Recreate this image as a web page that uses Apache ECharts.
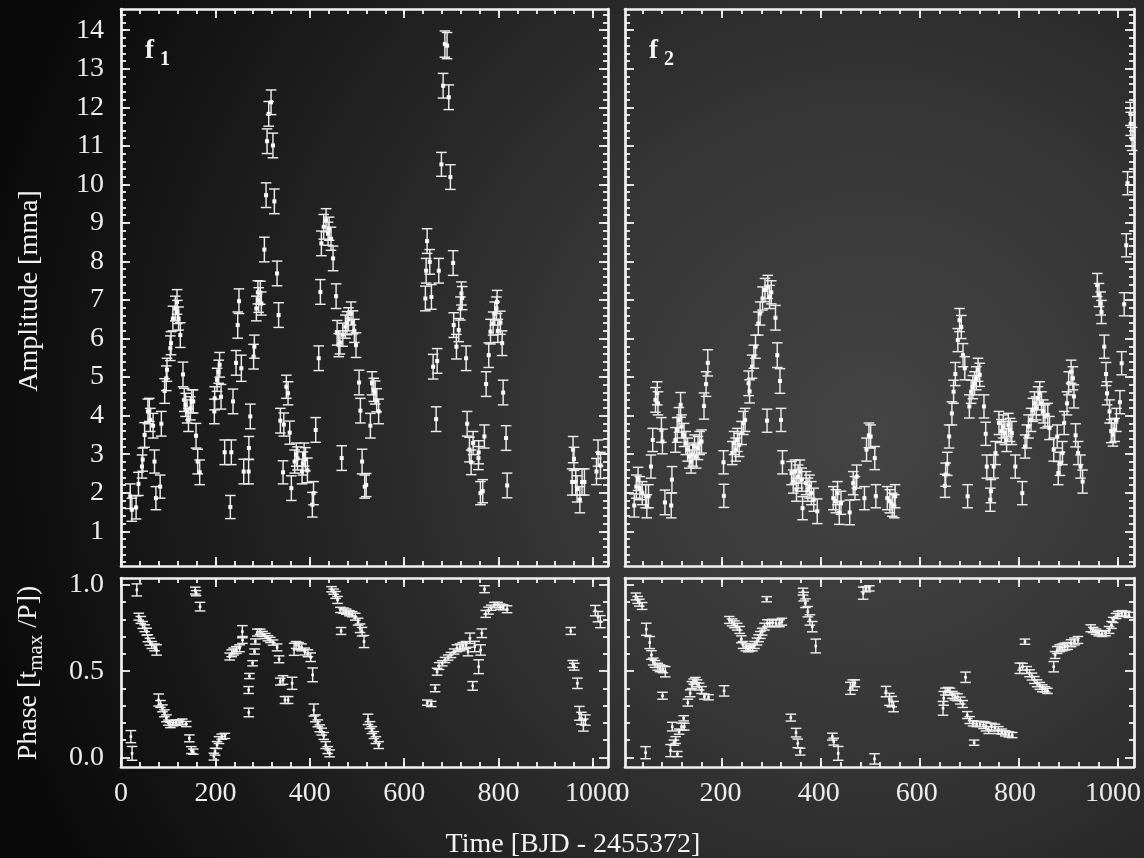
<!DOCTYPE html>
<html><head><meta charset="utf-8">
<script src="https://cdn.jsdelivr.net/npm/echarts@6/dist/echarts.min.js"></script>
<style>html,body{margin:0;padding:0;background:#111;}#c{width:1144px;height:858px;}</style>
</head><body><div id="c"></div>
<script>
// ---------- DATA: [time, value, error] ----------
const f1Amp = [
[19.7,1.91,0.32],[23,1.56,0.3],[32,1.62,0.3],[37,2.23,0.3],[44.5,2.68,0.3],[46,2.86,0.3],[50,3.50,0.32],[57,4.11,0.32],[60,4.15,0.3],[62,3.89,0.3],[68,3.74,0.32],[71,2.81,0.3],[74,1.86,0.3],[83,2.16,0.3],[85.5,3.79,0.32],[92.5,4.64,0.32],[96,4.97,0.32],[97.5,5.19,0.3],[104.5,5.75,0.32],[106,5.88,0.3],[110,6.52,0.32],[115,6.78,0.32],[118.7,6.95,0.32],[119.5,6.69,0.3],[122,6.52,0.3],[125.7,6.09,0.32],[131.4,5.07,0.32],[134,4.41,0.3],[137,4.28,0.3],[140,4.11,0.3],[143,3.89,0.3],[147,4.19,0.3],[150,4.37,0.3],[153,4.37,0.3],[159,3.48,0.32],[162.5,2.81,0.32],[166.7,2.53,0.32],
[197.8,4.11,0.32],[198.5,4.45,0.3],[203.5,4.93,0.3],[207,5.14,0.3],[209,5.32,0.32],[212,4.49,0.32],[219.7,3.05,0.32],[231.7,1.63,0.3],[233.8,3.05,0.32],[237.4,4.37,0.32],[243.8,5.37,0.32],[247.3,6.35,0.34],[250,6.97,0.32],[255,5.23,0.34],[260,2.55,0.32],[270.5,2.55,0.32],[271,3.16,0.3],[274,3.98,0.32],[281,5.53,0.32],[282.6,5.79,0.3],[286.8,6.78,0.32],[290,7.2,0.3],[291.7,7.0,0.32],[295.3,7.19,0.3],[297.4,6.91,0.3],[303.8,8.31,0.32],[307.4,9.72,0.32],[309.5,11.12,0.32],[313,11.83,0.32],[318,12.13,0.32],[322,11.01,0.32],[325,9.56,0.32],[330.7,7.69,0.32],[334,6.61,0.32],[337.7,3.87,0.32],[343.4,2.53,0.3],[345,3.77,0.3],[350.4,4.75,0.3],[354,4.58,0.3],[357.5,3.56,0.3],[361,2.12,0.32],[368,2.81,0.3],[371.5,2.99,0.3],[374,2.89,0.3],[383.7,2.55,0.32],[385.5,2.76,0.3],[388,2.99,0.3],[390.8,2.87,0.3],[395,2.58,0.32],[405.5,1.69,0.32],[408,1.99,0.3],[412.6,3.63,0.32],[419,5.49,0.32],[422.5,7.21,0.32],[424.6,8.47,0.32],[429.5,8.9,0.32],[434.6,9.07,0.3],[438.8,8.72,0.3],[441,8.85,0.3],[445,8.59,0.3],[449.4,8.08,0.32],[455.8,7.1,0.32],[458,6.15,0.32],[461.4,5.83,0.3],[464,5.9,0.3],[467.7,2.9,0.32],[470,6.1,0.3],[475.5,6.31,0.3],[479,6.4,0.3],[482,6.5,0.3],[487.5,6.65,0.3],[491.7,6.42,0.3],[494.5,6.2,0.3],[498,5.83,0.32],[504.5,4.86,0.32],[507.3,4.13,0.32],[510.9,2.81,0.32],[516.5,2.16,0.3],[519.6,2.2,0.3],[528.5,3.74,0.32],[532,4.84,0.3],[535.7,4.67,0.3],[538.6,4.6,0.3],[541.8,4.4,0.3],[546,4.11,0.32],
[645,7.04,0.32],[646.6,7.76,0.32],[648.7,8.53,0.32],[654.3,7.99,0.32],[657.8,7.08,0.32],[661.4,5.27,0.32],[667.8,3.91,0.32],[670,5.42,0.32],[673.4,7.76,0.32],[679,10.52,0.31],[682.6,12.56,0.32],[686.3,13.64,0.34],[691,13.6,0.34],[694.6,12.26,0.32],[698,10.19,0.32],[703.8,7.96,0.32],[705,6.35,0.32],[710.8,5.79,0.32],[715.7,6.22,0.3],[719.3,6.78,0.3],[721.4,7.17,0.3],[723,7.05,0.3],[731.3,5.49,0.32],[733.5,3.79,0.32],[738.4,3.12,0.32],[742,2.79,0.32],[746.2,3.29,0.3],[757.5,2.9,0.3],[758,3.05,0.3],[761.7,1.99,0.3],[766.6,2.04,0.3],[770,3.46,0.3],[773.7,4.82,0.32],[779.3,5.57,0.32],[783,6.18,0.32],[788.6,6.39,0.3],[792,6.65,0.3],[795.6,6.78,0.3],[797,6.95,0.3],[798.5,6.2,0.3],[804,6.41,0.3],[807.7,5.88,0.32],[809.8,4.6,0.32],[816,3.42,0.32],[818.3,2.19,0.32],
[956,2.28,0.34],[958,3.12,0.34],[960,2.88,0.3],[963.6,2.28,0.34],[966.5,2.1,0.34],[972.4,1.82,0.34],[977,2.28,0.34],[982,2.28,0.34],[1007.6,2.55,0.34],[1011,3.03,0.34],[1016,2.71,0.34]
];
const f2Amp = [
[23.6,1.67,0.3],[27.8,2.16,0.3],[31.4,2.36,0.3],[34.9,2.12,0.3],[39.8,1.99,0.3],[46.9,1.91,0.3],[49,1.65,0.3],[52.4,1.91,0.3],[57.4,2.68,0.3],[60.9,3.37,0.3],[66.5,4.41,0.32],[70,4.58,0.3],[71.5,4.32,0.3],[78.5,3.63,0.32],[80.6,3.33,0.32],[85.6,1.75,0.32],[98.3,1.67,0.32],[99.7,2.34,0.34],[106.7,3.37,0.32],[110.2,3.63,0.32],[113.8,3.89,0.32],[117.2,4.28,0.32],[119.3,3.72,0.3],[124.2,3.5,0.3],[127.7,3.29,0.3],[131.3,3.12,0.3],[134.8,2.94,0.3],[138.3,2.81,0.3],[141.8,2.99,0.3],[145.3,3.2,0.3],[148.9,2.94,0.3],[152.4,3.16,0.3],[155.9,3.29,0.3],[159.4,3.33,0.3],[164.4,4.25,0.34],[168.6,4.82,0.32],[172.1,5.37,0.34],
[203.8,2.79,0.3],[204.5,1.92,0.3],[221.4,3.03,0.3],[224.9,3.29,0.3],[228.5,3.12,0.3],[231.9,3.37,0.3],[235.4,3.24,0.3],[240.3,3.55,0.3],[243.8,3.81,0.3],[247.3,3.89,0.3],[254.4,4.84,0.32],[256.4,4.63,0.3],[261.4,5.27,0.3],[264.9,5.53,0.3],[268.4,5.79,0.3],[274,6.39,0.3],[277.6,6.65,0.3],[282.5,7.04,0.3],[287.5,7.26,0.3],[291.6,3.87,0.3],[293.1,7.34,0.3],[296.6,7.08,0.3],[300.1,7.2,0.3],[308.6,6.54,0.32],[312.2,5.57,0.32],[317.7,4.9,0.32],[319.8,3.89,0.3],[322.7,2.79,0.3],[341,2.51,0.3],[344.4,2.29,0.3],[348,2.55,0.3],[350.9,2.08,0.3],[354.3,2.42,0.3],[358,2.55,0.3],[361.6,2.34,0.3],[363.3,1.6,0.3],[370.4,2.25,0.3],[374,2.08,0.3],[377.4,2.16,0.3],[381,1.99,0.3],[385.9,1.82,0.3],[392.9,1.52,0.32],[425.3,1.86,0.3],[430.3,1.78,0.3],[433.8,1.99,0.3],[437.3,1.48,0.3],[440.8,1.74,0.3],[458.4,1.49,0.32],[465.5,2.25,0.3],[469,2.12,0.3],[472.5,2.42,0.3],[488.1,1.86,0.3],[492.3,3.12,0.3],[497.1,3.49,0.32],[500.6,3.46,0.3],[509,2.9,0.3],[511.2,1.91,0.3],[534.3,1.86,0.3],[539.3,1.78,0.3],[544.2,1.69,0.3],[548.4,1.65,0.3],[550,1.91,0.3],
[650.6,2.18,0.3],[652,2.47,0.3],[655.4,2.75,0.3],[659,3.46,0.3],[664.6,4.06,0.3],[668,4.62,0.3],[671.5,5.08,0.3],[676.5,5.96,0.3],[680,6.48,0.3],[683.5,6.3,0.3],[687,5.57,0.3],[690.6,5.23,0.3],[696.3,1.91,0.3],[699.8,4.24,0.3],[703.4,4.62,0.3],[706.8,4.74,0.3],[710.3,4.84,0.3],[713.8,4.97,0.3],[717.3,5.19,0.3],[720.8,5.06,0.3],[729.3,4.24,0.3],[732.8,3.53,0.3],[735,2.68,0.3],[742,1.82,0.3],[743.3,2.04,0.3],[749,2.68,0.3],[752.5,3.03,0.3],[759.5,3.81,0.3],[764.4,3.6,0.3],[768,3.72,0.3],[771.5,3.55,0.3],[775,3.37,0.3],[778.5,3.76,0.3],[782,3.63,0.3],[785.5,3.55,0.3],[792.5,2.68,0.3],[806.6,1.99,0.3],[812.2,3.2,0.3],[815.7,3.46,0.3],[819.2,3.72,0.3],[824.2,3.89,0.3],[827.8,4.15,0.3],[831.3,4.32,0.3],[834.8,4.19,0.3],[838.3,4.45,0.3],[841.8,4.58,0.3],[845.4,4.32,0.3],[848.9,4.11,0.3],[852.4,3.98,0.3],[858,4.02,0.3],[861.5,3.68,0.3],[870,3.12,0.3],[877.1,3.46,0.3],[879.2,2.51,0.3],[882.7,2.75,0.3],[887.6,3.03,0.3],[891.1,3.81,0.3],[896.8,4.32,0.3],[900.2,4.84,0.3],[905.1,5.14,0.3],[908.7,4.97,0.3],[910.8,4.5,0.3],[914.2,3.49,0.3],[919.2,3.03,0.3],[924.1,2.68,0.3],[928.3,2.29,0.3],
[957.9,7.39,0.3],[961.4,7.13,0.3],[964.9,6.91,0.3],[966.4,6.69,0.3],[972,5.79,0.3],[975.6,5.08,0.3],[977.6,4.58,0.3],[982.6,4.11,0.3],[986.1,3.6,0.3],[989.6,3.51,0.3],[993.1,3.63,0.3],[996.6,3.89,0.3],[1003.6,4.35,0.3],[1007.1,5.36,0.3],[1012.1,6.89,0.3],[1016.4,8.42,0.3],[1019,10.03,0.3],[1024.8,11.83,0.3],[1025.3,11.57,0.3],[1028.2,11.18,0.3]
];
const f1Phase = [
[20.9,0.121,0.035],[23.4,0.024,0.04],[33.5,0.971,0.035],[37.7,0.816,0.02],[41.9,0.797,0.02],[46,0.768,0.02],[50.2,0.749,0.02],[54.4,0.729,0.02],[57,0.691,0.02],[61.1,0.671,0.02],[65.3,0.652,0.02],[71.2,0.638,0.02],[75.4,0.623,0.03],[79.6,0.333,0.035],[83.7,0.310,0.02],[87.9,0.285,0.02],[92.1,0.256,0.02],[96.3,0.227,0.02],[100.5,0.202,0.015],[104.7,0.188,0.015],[110.5,0.198,0.015],[117.2,0.202,0.015],[124,0.204,0.015],[129.8,0.208,0.015],[138.2,0.194,0.015],[144.9,0.111,0.02],[149,0.043,0.02],[153.2,0.034,0.015],[157.4,0.967,0.02],[159.1,0.952,0.015],[167.5,0.874,0.025],
[196.8,0.005,0.02],[199.3,0.034,0.02],[203.5,0.072,0.02],[207.7,0.101,0.02],[213.5,0.121,0.015],[220.2,0.125,0.015],[230.3,0.585,0.02],[234.5,0.604,0.02],[238.7,0.614,0.02],[244.5,0.623,0.02],[251.2,0.633,0.02],[257.1,0.729,0.035],[257.5,0.681,0.02],[270.5,0.391,0.02],[272.2,0.472,0.015],[270.8,0.261,0.025],[278.8,0.546,0.015],[283,0.614,0.015],[284.7,0.672,0.015],[288.9,0.724,0.02],[294.8,0.729,0.015],[299.8,0.716,0.015],[305.7,0.704,0.015],[311.5,0.691,0.015],[316.5,0.681,0.015],[322.4,0.666,0.015],[330.8,0.638,0.02],[335,0.569,0.02],[337.5,0.440,0.02],[343.3,0.449,0.025],[347.5,0.333,0.02],[354.2,0.333,0.02],[362.6,0.430,0.035],[366.8,0.627,0.035],[371,0.652,0.02],[376.8,0.646,0.02],[382.7,0.638,0.02],[389.4,0.614,0.02],[396.1,0.604,0.02],[402,0.581,0.025],[406.1,0.479,0.04],[408.6,0.275,0.035],[412,0.227,0.02],[417,0.198,0.02],[421.2,0.169,0.02],[425.4,0.150,0.02],[429.6,0.125,0.02],[433.8,0.072,0.02],[438,0.043,0.02],[442.1,0.024,0.02],[446.3,0.975,0.015],[450.5,0.961,0.015],[454.7,0.942,0.02],[458.9,0.913,0.02],[464.8,0.855,0.015],[466.4,0.733,0.02],[471.5,0.851,0.015],[477.3,0.845,0.015],[484,0.836,0.015],[489.9,0.830,0.015],[496.6,0.816,0.02],[502.4,0.787,0.02],[506.6,0.749,0.025],[510.8,0.729,0.025],[515,0.672,0.035],[523.4,0.221,0.03],[527.6,0.188,0.02],[531.7,0.159,0.02],[535.9,0.130,0.02],[540.1,0.101,0.02],[546,0.072,0.02],
[649,0.318,0.015],[657.4,0.310,0.015],[665.7,0.401,0.02],[669.9,0.497,0.02],[674.1,0.530,0.02],[680.8,0.546,0.015],[686.7,0.565,0.015],[693.4,0.579,0.015],[699.2,0.594,0.015],[705.9,0.614,0.015],[711.8,0.633,0.02],[718.5,0.638,0.02],[724.3,0.646,0.02],[731.1,0.652,0.02],[735.3,0.614,0.025],[739.4,0.691,0.03],[745.3,0.415,0.025],[749.5,0.643,0.03],[757.9,0.526,0.04],[762.1,0.623,0.03],[764.6,0.720,0.025],[770.4,0.975,0.02],[772.9,0.832,0.02],[778.8,0.851,0.02],[784.6,0.868,0.015],[791.3,0.884,0.015],[798,0.884,0.015],[803.9,0.874,0.015],[809.8,0.870,0.015],[818.1,0.859,0.02],
[953,0.733,0.02],[957.2,0.542,0.02],[960.5,0.526,0.02],[967.2,0.430,0.03],[971.4,0.256,0.04],[975.6,0.227,0.035],[979.8,0.188,0.035],[984,0.217,0.03],[1004.9,0.851,0.03],[1010.7,0.816,0.03],[1015.8,0.787,0.035]
];
const f2Phase = [
[27,0.933,0.02],[30.5,0.913,0.02],[34,0.897,0.02],[39.5,0.878,0.02],[46.5,0.028,0.035],[47.9,0.743,0.035],[54.9,0.666,0.035],[58.4,0.594,0.025],[61.9,0.556,0.02],[65.4,0.542,0.02],[71,0.526,0.02],[75.8,0.517,0.02],[81.4,0.511,0.02],[86.3,0.497,0.03],[80.7,0.358,0.02],[96.8,0.040,0.035],[100.3,0.179,0.025],[103.7,0.086,0.015],[107.2,0.101,0.02],[110.7,0.020,0.015],[114.2,0.150,0.015],[119.1,0.179,0.02],[123.3,0.227,0.015],[124.7,0.179,0.02],[131.7,0.318,0.02],[136.5,0.372,0.02],[140,0.420,0.02],[143.5,0.440,0.015],[147,0.449,0.015],[150.5,0.430,0.02],[154.7,0.411,0.02],[159.6,0.391,0.02],[165.2,0.353,0.015],[173.5,0.349,0.015],[205,0.386,0.03],
[215.4,0.797,0.02],[221,0.783,0.02],[225.9,0.772,0.02],[231.5,0.758,0.02],[236.3,0.739,0.02],[239.8,0.685,0.02],[243.3,0.652,0.02],[248.9,0.638,0.02],[253.8,0.627,0.015],[257.3,0.633,0.015],[262.2,0.638,0.02],[266.4,0.652,0.02],[271.2,0.672,0.02],[274.7,0.691,0.02],[278.2,0.710,0.02],[281.7,0.729,0.02],[286.6,0.758,0.02],[290.8,0.917,0.015],[292.2,0.778,0.02],[297,0.778,0.02],[302.6,0.781,0.02],[309.6,0.778,0.02],[316.6,0.778,0.02],[321.5,0.787,0.02],[339.6,0.231,0.02],[350.1,0.144,0.025],[353.6,0.082,0.025],[358.5,0.034,0.02],[364.1,0.961,0.02],[365.5,0.932,0.025],[369,0.894,0.025],[373.8,0.845,0.03],[378,0.797,0.03],[382.9,0.758,0.03],[389.9,0.646,0.04],[423.4,0.121,0.02],[426.2,0.092,0.02],[435.2,0.024,0.04],[459.7,0.401,0.035],[464.6,0.420,0.03],[468.8,0.430,0.02],[485.5,0.952,0.035],[491,0.975,0.015],[498,0.980,0.015],[508.5,-0.008,0.03],[531.6,0.382,0.03],[538.5,0.337,0.035],[543.4,0.324,0.03],[546.9,0.295,0.03],
[646.7,0.285,0.04],[648.1,0.343,0.04],[651.6,0.382,0.02],[656.5,0.391,0.015],[660.7,0.382,0.02],[665.6,0.363,0.02],[670.5,0.353,0.02],[676,0.349,0.02],[681.6,0.330,0.02],[686.5,0.310,0.02],[692.1,0.465,0.03],[695.6,0.246,0.02],[700.5,0.217,0.02],[707.4,0.198,0.015],[709.5,0.086,0.015],[714.4,0.194,0.015],[721.4,0.194,0.015],[728.4,0.188,0.02],[733.3,0.179,0.025],[738.8,0.159,0.02],[744.4,0.179,0.02],[751.4,0.173,0.02],[758.4,0.159,0.02],[765.3,0.150,0.015],[772.3,0.140,0.015],[779.3,0.134,0.015],[786.3,0.130,0.015],[801.6,0.517,0.03],[807.2,0.526,0.02],[812,0.671,0.015],[815.6,0.507,0.02],[821.2,0.488,0.02],[826.1,0.469,0.02],[831,0.449,0.02],[836.5,0.430,0.02],[842.1,0.415,0.02],[847,0.401,0.02],[852.6,0.395,0.015],[857.5,0.386,0.015],[870,0.526,0.03],[872.8,0.594,0.02],[877,0.623,0.02],[881.9,0.633,0.02],[887.5,0.638,0.02],[892.4,0.643,0.02],[898,0.646,0.02],[905,0.662,0.02],[911.9,0.672,0.02],[918.9,0.681,0.02],
[944.7,0.749,0.02],[949.6,0.739,0.015],[955.2,0.729,0.015],[960.8,0.720,0.015],[967.7,0.716,0.015],[974.7,0.720,0.015],[981.7,0.739,0.02],[986.6,0.768,0.02],[990.1,0.797,0.015],[995.7,0.820,0.015],[1000.5,0.832,0.015],[1007.5,0.836,0.015],[1014.5,0.832,0.015],[1021.5,0.826,0.015]
];
// ---------- TICKS ----------
const timeLabels = [0, 200, 400, 600, 800, 1000];
const ampLabels = [1,2,3,4,5,6,7,8,9,10,11,12,13,14];
const phaseLabels = [0, 0.5, 1.0];
const timeMinor = []; for (let v = 40; v <= 1000; v += 40) timeMinor.push(v);
const ampMinor = []; for (let k = 1; k <= 72; k++) ampMinor.push(+(k * 0.2).toFixed(1));
const phaseMinor = [0.1,0.2,0.3,0.4,0.6,0.7,0.8,0.9];

// ---------- STYLE / LAYOUT ----------
const FG = '#f2f2f2', BAR = '#ececec';
const FONT = '"Liberation Serif", "DejaVu Serif", serif';
const RANGE = {tA:[0,1032], tB:[5,1032], amp:[0.1,14.55], ph:[-0.055,1.04]};
const grids = [
  {left:121, top:9,   width:487, height:557},
  {left:625, top:9,   width:509, height:557},
  {left:121, top:578, width:487, height:189},
  {left:625, top:578, width:509, height:189},
  {left:622.5, top:578, width:511.5, height:189}   // label-only grid for lower right time labels
];
const xAxes = [], yAxes = [];
function mk(list, g, pos, range, ticks, len, line, labels, fmt) {
  list.push({
    type:'value', gridIndex:g, position:pos, min:range[0], max:range[1],
    axisLine:{show:line, onZero:false, lineStyle:{color:FG, width:2.7}},
    axisTick:{show:!!ticks, inside:true, length:len, customValues:ticks||[], lineStyle:{color:FG, width:1.8}},
    axisLabel: labels ? {show:true, customValues:labels, color:'#ececec', fontFamily:FONT, fontSize:28,
                          margin:(pos==='bottom'?13:17), formatter:fmt} : {show:false},
    splitLine:{show:false}, minorTick:{show:false}
  });
  return list.length - 1;
}
const panels = [
  {g:0, xr:RANGE.tA, yr:RANGE.amp, yMaj:ampLabels, yMin:ampMinor, yLab:true, xLab:false, yfmt:v=>String(Math.round(v)), data:f1Amp, marker:4},
  {g:1, xr:RANGE.tB, yr:RANGE.amp, yMaj:ampLabels, yMin:ampMinor, yLab:false, xLab:false, data:f2Amp, marker:4},
  {g:2, xr:RANGE.tA, yr:RANGE.ph, yMaj:phaseLabels, yMin:phaseMinor, yLab:true, xLab:true, yfmt:v=>v.toFixed(1), data:f1Phase, marker:2.6},
  {g:3, xr:RANGE.tB, yr:RANGE.ph, yMaj:phaseLabels, yMin:phaseMinor, yLab:false, xLab:false, data:f2Phase, marker:2.6}
];
const series = [];
function errRender(params, api) {
  const x = api.value(0), y = api.value(1), e = api.value(2);
  const c = api.coord([x, y]), lo = api.coord([x, y - e]), hi = api.coord([x, y + e]);
  const cw = 5.3, m = params.context.marker;
  const ls = {stroke:BAR, lineWidth:1.45};
  return {type:'group', children:[
    {type:'line', shape:{x1:c[0], y1:hi[1], x2:c[0], y2:lo[1]}, style:ls},
    {type:'line', shape:{x1:c[0]-cw, y1:hi[1], x2:c[0]+cw, y2:hi[1]}, style:ls},
    {type:'line', shape:{x1:c[0]-cw, y1:lo[1], x2:c[0]+cw, y2:lo[1]}, style:ls},
    {type:'rect', shape:{x:c[0]-m/2, y:c[1]-m/2, width:m, height:m}, style:{fill:'#ffffff'}}
  ]};
}
panels.forEach(p => {
  const xi = mk(xAxes, p.g, 'bottom', p.xr, timeLabels, 9, true, p.xLab ? timeLabels : null, v=>String(Math.round(v)));
  mk(xAxes, p.g, 'bottom', p.xr, timeMinor, 5, false, null);
  mk(xAxes, p.g, 'top', p.xr, timeLabels, 9, true, null);
  mk(xAxes, p.g, 'top', p.xr, timeMinor, 5, false, null);
  const yi = mk(yAxes, p.g, 'left', p.yr, p.yMaj, 9, true, p.yLab ? p.yMaj : null, p.yfmt);
  mk(yAxes, p.g, 'left', p.yr, p.yMin, 5, false, null);
  mk(yAxes, p.g, 'right', p.yr, p.yMaj, 9, true, null);
  mk(yAxes, p.g, 'right', p.yr, p.yMin, 5, false, null);
  series.push({
    type:'custom', xAxisIndex:xi, yAxisIndex:yi, data:p.data, clip:false, silent:true,
    renderItem:(params, api) => { params.context.marker = p.marker; return errRender(params, api); }
  });
});
// label-only axes for the lower-right time labels
mk(xAxes, 4, 'bottom', [0,1032], null, 0, false, timeLabels, v=>String(Math.round(v)));
mk(yAxes, 4, 'left', RANGE.ph, null, 0, false, null);

// ---------- TEXT ----------
const ctx = document.createElement('canvas').getContext('2d');
function tw(t, f) { ctx.font = f; return ctx.measureText(t).width; }
const F28 = '28px ' + FONT, F21 = '21px ' + FONT;
const ph1 = 'Phase [t', ph2 = 'max', ph3 = ' /P])';
const w1 = tw(ph1, F28), w2 = tw(ph2, F21), w3 = tw(ph3, F28), W = w1 + w2 + w3;
const txt = (x, y, text, font, extra) => Object.assign({type:'text', x, y, silent:true,
  style:{text, font, fill:FG, align:'left', verticalAlign:'middle'}}, extra || {});
const graphic = [
  txt(145, 51, 'f', 'bold 27px ' + FONT),
  txt(160, 60, '1', 'bold 20px ' + FONT),
  txt(649, 51, 'f', 'bold 27px ' + FONT),
  txt(664, 60, '2', 'bold 20px ' + FONT),
  {type:'text', x:30, y:291, rotation:Math.PI/2, silent:true,
   style:{text:'Amplitude [mma]', font:F28, fill:FG, align:'center', verticalAlign:'middle'}},
  {type:'text', x:573, y:845, silent:true,
   style:{text:'Time [BJD - 2455372]', font:F28, fill:FG, align:'center', verticalAlign:'middle'}},
  {type:'group', x:29, y:673, rotation:Math.PI/2, silent:true, children:[
    {type:'text', x:-W/2, y:0, style:{text:ph1, font:F28, fill:FG, align:'left', verticalAlign:'middle'}},
    {type:'text', x:-W/2 + w1, y:7, style:{text:ph2, font:F21, fill:FG, align:'left', verticalAlign:'middle'}},
    {type:'text', x:-W/2 + w1 + w2, y:0, style:{text:ph3, font:F28, fill:FG, align:'left', verticalAlign:'middle'}}
  ]}
];

const chart = echarts.init(document.getElementById('c'), null, {renderer:'canvas'});
chart.setOption({
  animation:false,
  backgroundColor:{type:'radial', x:0.76, y:0.5, r:1.05, colorStops:[
    {offset:0, color:'#444444'}, {offset:0.35, color:'#363636'}, {offset:0.7, color:'#1f1f1f'}, {offset:1, color:'#0a0a0a'}]},
  grid:grids, xAxis:xAxes, yAxis:yAxes, series, graphic
});
</script></body></html>
